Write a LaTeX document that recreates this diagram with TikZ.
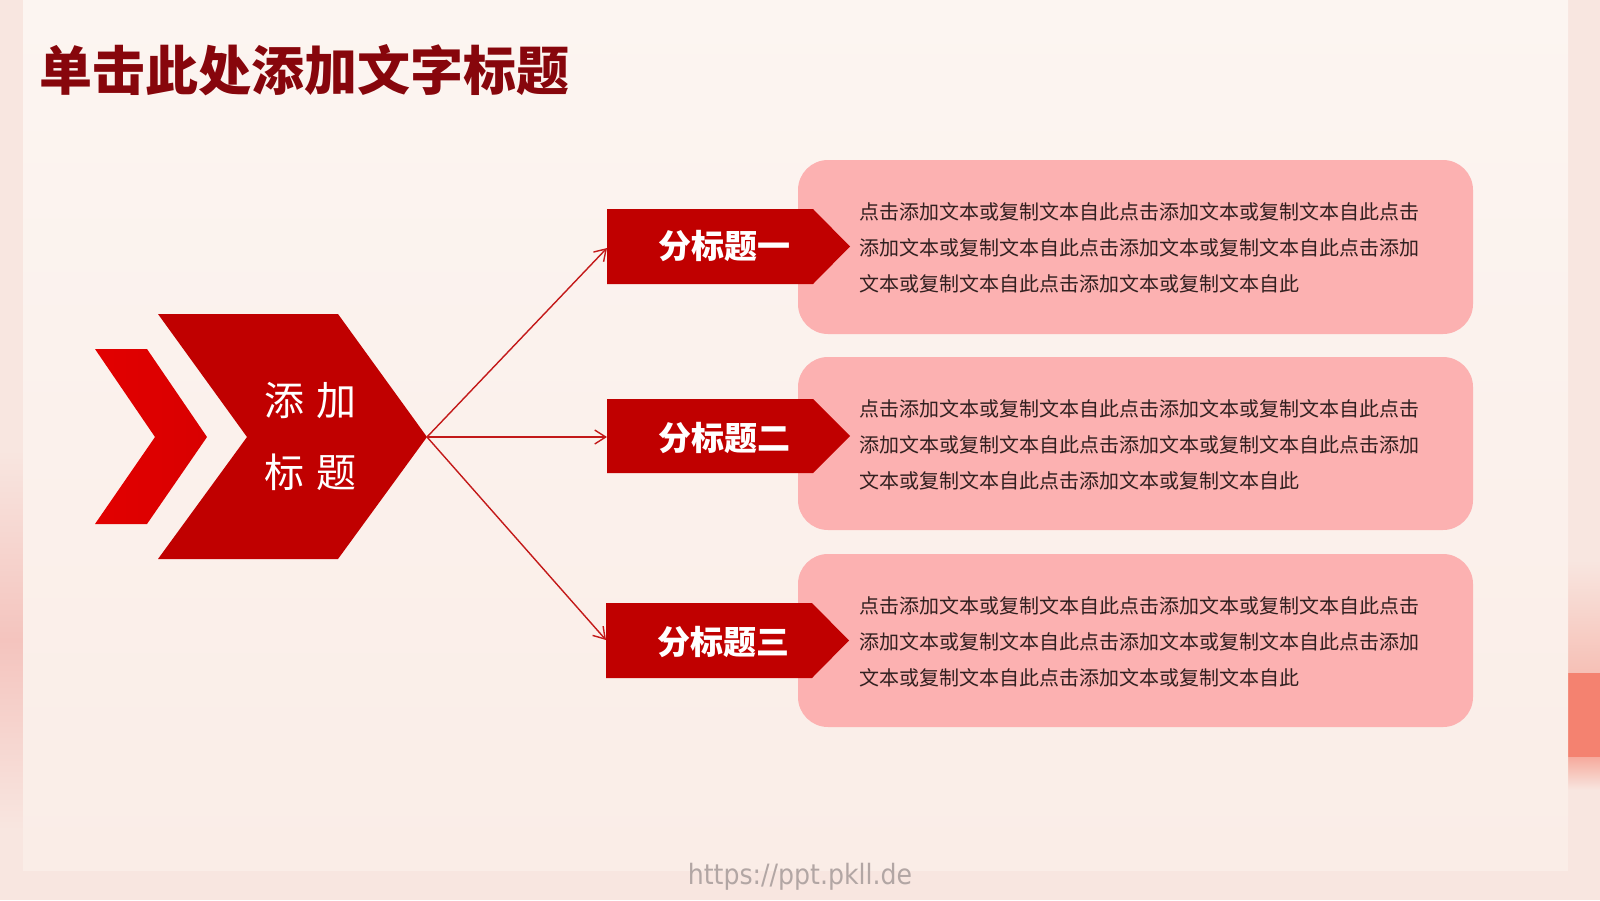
\documentclass[tikz,border=0pt]{standalone}
\usepackage{fontspec}
\newfontfamily\cjk{Noto Sans CJK SC}
\newfontfamily\wmfont{DejaVu Sans}
\usetikzlibrary{arrows.meta}
\definecolor{outerbg}{RGB}{248,230,224}
\definecolor{innertop}{RGB}{252,245,241}
\definecolor{innerbot}{RGB}{250,237,231}
\definecolor{titlered}{RGB}{135,6,12}
\definecolor{mainred}{RGB}{192,0,0}
\definecolor{brightred}{RGB}{226,0,0}
\definecolor{pinkbox}{RGB}{252,177,177}
\definecolor{bodytext}{RGB}{50,32,32}
\definecolor{linkred}{RGB}{195,25,25}
\definecolor{wmgray}{RGB}{178,166,164}
\definecolor{leftsmear}{RGB}{244,196,190}
\definecolor{rightpink}{RGB}{246,192,182}
\definecolor{salmon}{RGB}{244,130,112}
\begin{document}
\begin{tikzpicture}[x=1pt,y=-1pt,
  titletext/.style={font=\cjk\bfseries\fontsize{53}{60}\selectfont, text=titlered, anchor=west, inner sep=0},
  hubtext/.style={font=\cjk\fontsize{40}{72}\selectfont, text=white, align=center, inner sep=0},
  subbox/.style={fill=mainred},
  subtext/.style={font=\cjk\bfseries\fontsize{33}{40}\selectfont, text=white, inner sep=0},
  card/.style={fill=pinkbox, rounded corners=30pt},
  cardtext/.style={font=\cjk\fontsize{20}{36}\selectfont, text=bodytext, align=left, anchor=west, inner sep=0},
  link/.style={draw=linkred, line width=1.4pt, -{Straight Barb[length=11pt,width=14pt,line width=1.4pt]}},
]
\useasboundingbox (0,0) rectangle (1600,900);
% background
\fill[outerbg] (0,0) rectangle (1600,900);
\shade[top color=outerbg, bottom color=outerbg, middle color=leftsmear] (0,450) rectangle (23,830);
\shade[top color=outerbg, bottom color=rightpink] (1568,560) rectangle (1600,673);
\fill[salmon] (1568,673) rectangle (1600,757);
\shade[top color=salmon!60!outerbg, bottom color=outerbg] (1568,757) rectangle (1600,790);
\shade[top color=innertop, bottom color=innerbot] (23,0) rectangle (1568,870);
\node[font=\wmfont\fontsize{28}{30}\selectfont, text=wmgray, xscale=0.9] (wm) at (800,877) {https://ppt.pkll.de};

% title
\node[titletext] (title) at (39,70) {单击此处添加文字标题};

% chevrons
\shade[left color=brightred, right color=red!85!black]
  (95,349) -- (147,349) -- (207,437) -- (147,524) -- (95,524) -- (155,437) -- cycle;
\fill[mainred]
  (158,314) -- (338,314) -- (427,437) -- (338,559) -- (158,559) -- (247,437) -- cycle;
\coordinate (hub) at (427,437);
\node[hubtext] (hubtxt) at (310,436) {添\hspace{12pt}加\\标\hspace{12pt}题};

% subtitle boxes
\fill[subbox] (607,209) -- (813,209) -- (850,246.5) -- (813,284) -- (607,284) -- cycle;
\fill[subbox] (607,399) -- (813,399) -- (850,436) -- (813,473) -- (607,473) -- cycle;
\fill[subbox] (606,603) -- (812,603) -- (849,640.5) -- (812,678) -- (606,678) -- cycle;
\coordinate (s1) at (607,248);
\coordinate (s2) at (607,437);
\coordinate (s3) at (606,640);
\node[subtext] (t1) at (724,246) {分标题一};
\node[subtext] (t2) at (724,438) {分标题二};
\node[subtext] (t3) at (723,642) {分标题三};

% cards
\fill[card] (798,160) rectangle (1473,334);
\fill[card] (798,357) rectangle (1473,530);
\fill[card] (798,554) rectangle (1473,727);
% redraw the box tips over the cards
\fill[subbox] (798,209) -- (813,209) -- (850,246.5) -- (813,284) -- (798,284) -- cycle;
\fill[subbox] (798,399) -- (813,399) -- (850,436) -- (813,473) -- (798,473) -- cycle;
\fill[subbox] (798,603) -- (812,603) -- (849,640.5) -- (812,678) -- (798,678) -- cycle;

\node[cardtext] (c1) at (859,248) {点击添加文本或复制文本自此点击添加文本或复制文本自此点击\\添加文本或复制文本自此点击添加文本或复制文本自此点击添加\\文本或复制文本自此点击添加文本或复制文本自此};
\node[cardtext] (c2) at (859,445) {点击添加文本或复制文本自此点击添加文本或复制文本自此点击\\添加文本或复制文本自此点击添加文本或复制文本自此点击添加\\文本或复制文本自此点击添加文本或复制文本自此};
\node[cardtext] (c3) at (859,642) {点击添加文本或复制文本自此点击添加文本或复制文本自此点击\\添加文本或复制文本自此点击添加文本或复制文本自此点击添加\\文本或复制文本自此点击添加文本或复制文本自此};

% connectors
\draw[link] (hub) -- (s1);
\draw[link] (hub) -- (s2);
\draw[link] (hub) -- (s3);
\end{tikzpicture}
\end{document}
